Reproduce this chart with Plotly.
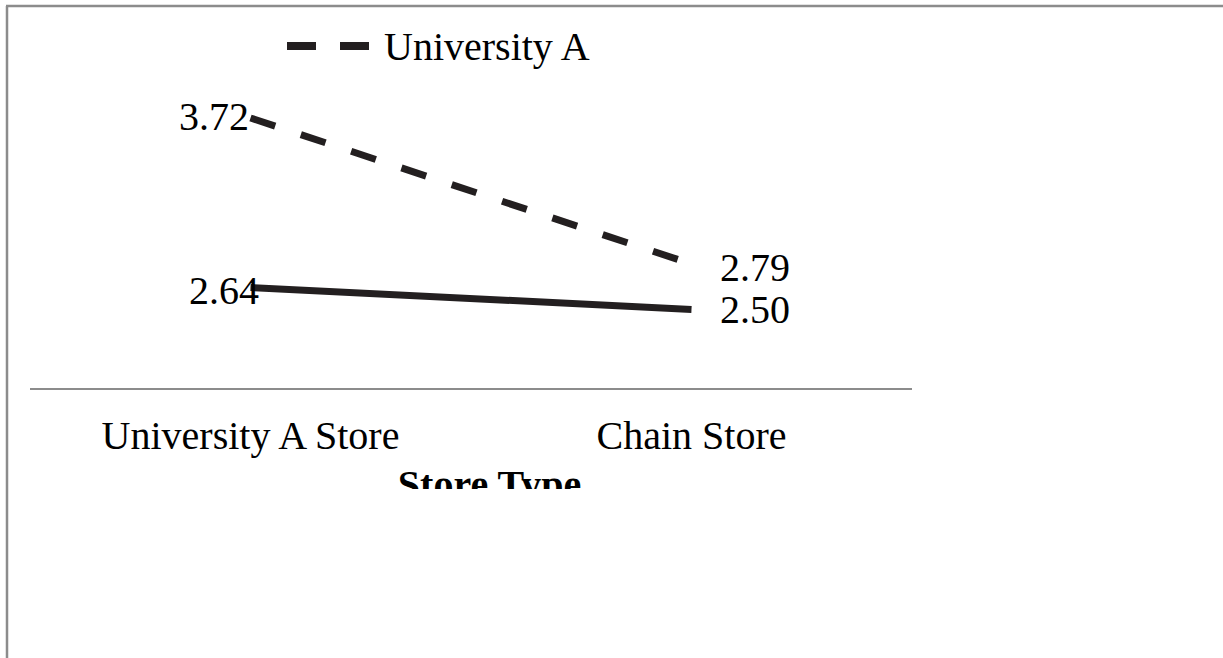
import plotly.graph_objects as go

# ---- data ----
categories = ["University A Store", "Chain Store"]
series_names = ["University A", "University B"]
univ_a_values = [3.72, 2.79]
univ_b_values = [2.64, 2.50]
x_title = "Store Type"

# ---- styles ----
W, H = 1223, 658
FONT = "Liberation Serif"
LINE_COLOR = "#231f20"
GRAY = "#8c8c8c"

def px_x(p):
    return p / W

def px_y(p):
    return 1 - p / H

fig = go.Figure()

fig.add_trace(go.Scatter(
    x=categories, y=univ_a_values, mode="lines", name=series_names[0],
    line=dict(color=LINE_COLOR, width=7, dash="26px,27px"),
    showlegend=False, hoverinfo="skip",
))
fig.add_trace(go.Scatter(
    x=categories, y=univ_b_values, mode="lines", name=series_names[1],
    line=dict(color=LINE_COLOR, width=7),
    showlegend=False, hoverinfo="skip",
))

# data labels (annotations from the data arrays)
label_offsets = {
    (0, 0): dict(xanchor="right", xshift=0, yshift=1),
    (0, 1): dict(xanchor="left", xshift=26, yshift=-4),
    (1, 0): dict(xanchor="right", xshift=10, yshift=-3),
    (1, 1): dict(xanchor="left", xshift=26, yshift=0),
}
for si, vals in enumerate([univ_a_values, univ_b_values]):
    for ci, v in enumerate(vals):
        o = label_offsets[(si, ci)]
        fig.add_annotation(
            x=categories[ci], y=v, xref="x", yref="y", text=f"{v:.2f}",
            showarrow=False, xanchor=o["xanchor"], yanchor="middle",
            xshift=o["xshift"], yshift=o["yshift"],
            font=dict(family=FONT, size=40, color="black"),
        )

# clipped axis title drawn in a helper subplot so the bottom is cut off
fig.add_trace(go.Scatter(
    x=[489.5], y=[488], mode="text", text=[f"<b>{x_title}</b>"],
    textposition="middle center", cliponaxis=True,
    textfont=dict(family=FONT, size=40, color="black"),
    xaxis="x2", yaxis="y2", showlegend=False, hoverinfo="skip",
))

# manual legend
fig.add_shape(type="line", xref="paper", yref="paper",
              x0=px_x(287), x1=px_x(369), y0=px_y(46), y1=px_y(46),
              line=dict(color=LINE_COLOR, width=8, dash="29px,24px"))
fig.add_annotation(xref="paper", yref="paper", x=px_x(382), y=px_y(47),
                   text=series_names[0], showarrow=False,
                   xanchor="left", yanchor="middle",
                   font=dict(family=FONT, size=40, color="black"))

# outer border (top and left)
fig.add_shape(type="line", xref="paper", yref="paper",
              x0=px_x(6), x1=1.01, y0=px_y(6), y1=px_y(6),
              line=dict(color=GRAY, width=2.5))
fig.add_shape(type="line", xref="paper", yref="paper",
              x0=px_x(7), x1=px_x(7), y0=px_y(6), y1=-0.01,
              line=dict(color=GRAY, width=2.5))

fig.update_layout(
    width=W, height=H,
    margin=dict(l=0, r=0, t=0, b=0),
    paper_bgcolor="white", plot_bgcolor="white",
    font=dict(family=FONT, color="black"),
    xaxis=dict(
        domain=[px_x(30), px_x(912)], range=[-0.5, 1.5], type="category",
        showgrid=False, zeroline=False, showline=True, linecolor=GRAY,
        linewidth=2, ticks="", tickfont=dict(family=FONT, size=40, color="black"),
        ticklabelstandoff=11,
    ),
    yaxis=dict(
        domain=[px_y(388), px_y(74)], range=[2, 4],
        showgrid=False, zeroline=False, showline=False, showticklabels=False,
    ),
    xaxis2=dict(domain=[0, 1], range=[0, W], anchor="y2", visible=False),
    yaxis2=dict(domain=[px_y(489), px_y(400)], range=[489, 400], anchor="x2",
                visible=False),
    showlegend=False,
)

fig.write_html("out.html", config={"displayModeBar": False},
               post_script="document.body.style.margin='0px';")
